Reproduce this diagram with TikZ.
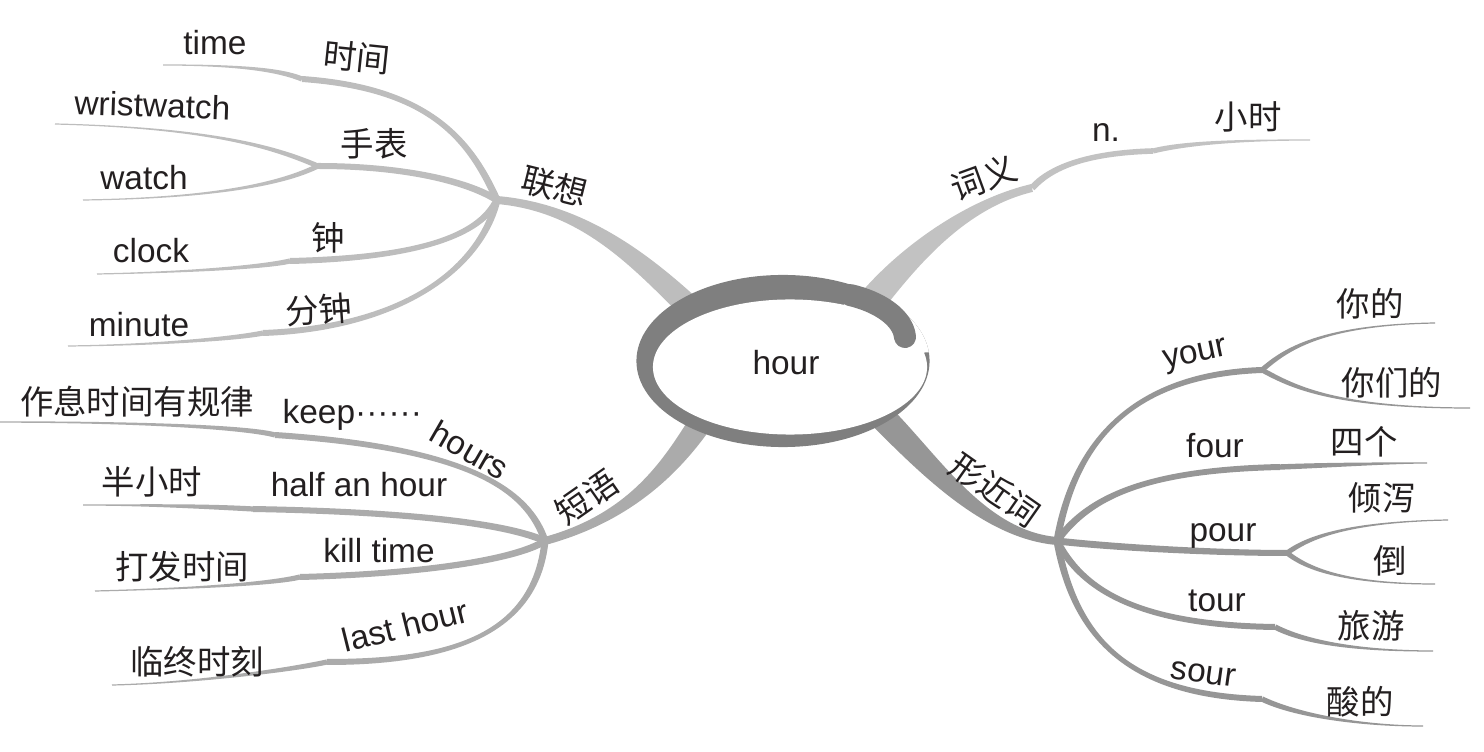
\documentclass[tikz,border=0pt]{standalone}
\usepackage{fontspec}
\setmainfont{Liberation Sans}
\newfontfamily\cjk{Noto Sans CJK SC}
\usetikzlibrary{calc}
\definecolor{txt}{HTML}{231F20}
\definecolor{gA}{HTML}{BDBDBD}
\definecolor{gB}{HTML}{C2C2C2}
\definecolor{gC}{HTML}{ABABAB}
\definecolor{gD}{HTML}{969696}
\definecolor{ring}{HTML}{7F7F7F}
% tapered branch: colour, start, control 1, control 2, end, half width at start, half width at end (px)
\newcommand\tbranch[7]{%
  \path (#2) coordinate (tS) (#3) coordinate (tA) (#4) coordinate (tB) (#5) coordinate (tE);
  \path ($(tS)!#6*0.1mm!90:(tA)$) coordinate (tS1)
        ($(tS)!#6*0.1mm!-90:(tA)$) coordinate (tS2)
        ($(tE)!#7*0.1mm!-90:(tB)$) coordinate (tE1)
        ($(tE)!#7*0.1mm!90:(tB)$) coordinate (tE2);
  \fill[#1] (tS1) .. controls ($(tA)+(tS1)-(tS)$) and ($(tB)+(tE1)-(tE)$) .. (tE1)
     -- (tE2) .. controls ($(tB)+(tE2)-(tE)$) and ($(tA)+(tS2)-(tS)$) .. (tS2) -- cycle;
}
\newcommand\mdots{······}
\tikzset{
  lbl/.style={text=txt, inner sep=0pt, font=\fontsize{9.5}{11}\selectfont},
  clbl/.style={text=txt, inner sep=0pt, font=\fontsize{9.5}{11}\selectfont\cjk},
}
\begin{document}
\begin{tikzpicture}[x=0.01cm,y=-0.01cm]
\useasboundingbox (0,0) rectangle (1484,752);
% ---------- coordinates
\coordinate (cO) at (783,361);
\coordinate (sL) at (705,322);  \coordinate (hL) at (497,200);
\coordinate (sR) at (865,310);
\coordinate (sD) at (712,405);  \coordinate (hD) at (545,541);
\coordinate (sX) at (880,415);  \coordinate (hX) at (1057,541);
% 联想
\coordinate (kT) at (302,79);   \coordinate (eT) at (163,65);
\coordinate (kW) at (318,166);  \coordinate (eW1) at (55,124); \coordinate (eW2) at (83,200);
\coordinate (kC) at (290,261);  \coordinate (eC) at (97,274);
\coordinate (kM) at (263,333);  \coordinate (eM) at (68,346);
% 词义
\coordinate (kN1) at (1032,188); \coordinate (kN2) at (1153,151); \coordinate (eN) at (1310,140);
% 短语
\coordinate (kK) at (275,435);  \coordinate (eK) at (0,422);
\coordinate (kH) at (253,509);  \coordinate (eH) at (83,505);
\coordinate (kKT) at (300,577); \coordinate (eKT) at (95,591);
\coordinate (kL) at (327,662);  \coordinate (eL) at (112,685);
% 形近词
\coordinate (kY) at (1262,370); \coordinate (eY1) at (1435,323); \coordinate (eY2) at (1470,408);
\coordinate (kF) at (1280,467); \coordinate (eF) at (1427,463);
\coordinate (kP) at (1287,553); \coordinate (eP1) at (1448,520); \coordinate (eP2) at (1435,584);
\coordinate (kT2) at (1275,627); \coordinate (eT2) at (1433,651);
\coordinate (kS) at (1262,699); \coordinate (eS) at (1423,726);
% ---------- branches: 联想
\tbranch{gA}{sL}{650,270}{590,208}{hL}{12}{4}
\tbranch{gA}{hL}{470,140}{430,88}{kT}{3.5}{3}
\tbranch{gA}{kT}{280,70}{240,65}{eT}{2.6}{0.6}
\tbranch{gA}{hL}{465,180}{400,166}{kW}{3.5}{3}
\tbranch{gA}{kW}{280,150}{220,128}{eW1}{2.5}{0.6}
\tbranch{gA}{kW}{290,180}{230,198}{eW2}{2.5}{0.6}
\tbranch{gA}{hL}{480,235}{420,258}{kC}{3.5}{3}
\tbranch{gA}{kC}{270,266}{200,272}{eC}{2.6}{0.6}
\tbranch{gA}{hL}{480,270}{400,328}{kM}{3.5}{3}
\tbranch{gA}{kM}{240,338}{160,345}{eM}{2.6}{0.6}
% 词义
\tbranch{gB}{sR}{900,265}{960,205}{kN1}{14}{4}
\tbranch{gB}{kN1}{1050,168}{1085,153}{kN2}{3.3}{2.8}
\tbranch{gB}{kN2}{1185,143}{1240,140}{eN}{2.6}{0.6}
% 短语
\tbranch{gC}{sD}{680,455}{640,515}{hD}{12}{4}
\tbranch{gC}{hD}{528,490}{470,448}{kK}{3.5}{3}
\tbranch{gC}{kK}{250,428}{150,422}{eK}{2.6}{0.7}
\tbranch{gC}{hD}{510,525}{420,512}{kH}{3.5}{3}
\tbranch{gC}{kH}{200,506}{140,505}{eH}{2.6}{0.6}
\tbranch{gC}{hD}{515,560}{420,574}{kKT}{3.5}{3}
\tbranch{gC}{kKT}{280,582}{220,588}{eKT}{2.6}{0.6}
\tbranch{gC}{hD}{535,640}{440,662}{kL}{3.5}{3}
\tbranch{gC}{kL}{300,668}{200,683}{eL}{2.6}{0.6}
% 形近词
\tbranch{gD}{sX}{930,465}{985,535}{hX}{13}{4}
\tbranch{gD}{hX}{1072,455}{1120,375}{kY}{3.5}{3}
\tbranch{gD}{kY}{1285,350}{1320,325}{eY1}{2.5}{0.6}
\tbranch{gD}{kY}{1290,385}{1330,408}{eY2}{2.5}{0.6}
\tbranch{gD}{hX}{1090,495}{1150,470}{kF}{3.5}{3}
\tbranch{gD}{kF}{1330,465}{1390,463}{eF}{2.7}{0.6}
\tbranch{gD}{hX}{1120,548}{1220,553}{kP}{3.5}{3}
\tbranch{gD}{kP}{1305,540}{1340,522}{eP1}{2.5}{0.6}
\tbranch{gD}{kP}{1305,567}{1340,584}{eP2}{2.5}{0.6}
\tbranch{gD}{hX}{1080,585}{1130,625}{kT2}{3.5}{3}
\tbranch{gD}{kT2}{1310,645}{1370,651}{eT2}{2.7}{0.6}
\tbranch{gD}{hX}{1075,640}{1130,695}{kS}{3.5}{3}
\tbranch{gD}{kS}{1295,715}{1360,726}{eS}{2.7}{0.6}
% ---------- central ring
\fill[ring] (cO) ellipse [x radius=14.65mm, y radius=8.6mm];
\fill[white] (790,367) ellipse [x radius=13.7mm, y radius=6.75mm];
\begin{scope}
  \clip (cO) ellipse [x radius=14.65mm, y radius=8.6mm];
  \fill[white] (cO) -- (1050,345) -- (1050,142) -- (1020,142) -- cycle;
\end{scope}
\draw[ring, line width=2.2mm, line cap=round] (850,295) .. controls (880,302) and (903,318) .. (905,337);
\node[lbl, anchor=base] (hour) at (786,375) {hour};
% ---------- labels: 联想
\node[clbl, rotate=-14] (lx) at (555,186) {联想};
\node[lbl, anchor=base] (time) at (215,55) {time};
\node[clbl, rotate=-6] (sj) at (357,57) {时间};
\node[lbl, anchor=base, rotate=-2] (wrist) at (152,117) {wristwatch};
\node[clbl] (sb) at (374,144) {手表};
\node[lbl, anchor=base] (watch) at (144,190) {watch};
\node[lbl, anchor=base] (clock) at (151,263) {clock};
\node[clbl] (zh) at (328,238) {钟};
\node[lbl, anchor=base] (minute) at (139,337) {minute};
\node[clbl, rotate=4] (fz) at (319,310) {分钟};
% 词义
\node[clbl, rotate=20] (cy) at (984,178) {词义};
\node[lbl, anchor=base] (n) at (1106,142) {n.};
\node[clbl] (xs) at (1248,117) {小时};
% 短语
\node[clbl, rotate=35] (dy) at (587,497) {短语};
\node[clbl] (zx) at (137,402) {作息时间有规律};
\node[lbl, anchor=base west] (keep) at (282,424) {keep\mdots};
\node[lbl, rotate=-30] (hours) at (470,450) {hours};
\node[clbl] (bxs) at (152,482) {半小时};
\node[lbl, anchor=base] (half) at (359,497) {half an hour};
\node[clbl] (dfsj) at (182,567) {打发时间};
\node[lbl, anchor=base] (kill) at (379,563) {kill time};
\node[clbl] (lzsk) at (197,662) {临终时刻};
\node[lbl, anchor=base, rotate=14] (last) at (408,637) {last hour};
% 形近词
\node[clbl, rotate=-35] (xjc) at (995,490) {形近词};
\node[lbl, anchor=base, rotate=12] (your) at (1197,362) {your};
\node[clbl] (nd) at (1370,304) {你的};
\node[clbl] (nmd) at (1392,383) {你们的};
\node[lbl, anchor=base] (four) at (1215,458) {four};
\node[clbl] (sg) at (1364,442) {四个};
\node[lbl, anchor=base] (pour) at (1223,542) {pour};
\node[clbl] (qx) at (1382,498) {倾泻};
\node[clbl] (dao) at (1390,561) {倒};
\node[lbl, anchor=base] (tour) at (1217,612) {tour};
\node[clbl] (ly) at (1371,626) {旅游};
\node[lbl, anchor=base, rotate=-8] (sour) at (1202,683) {sour};
\node[clbl] (sd) at (1360,702) {酸的};
\end{tikzpicture}
\end{document}
